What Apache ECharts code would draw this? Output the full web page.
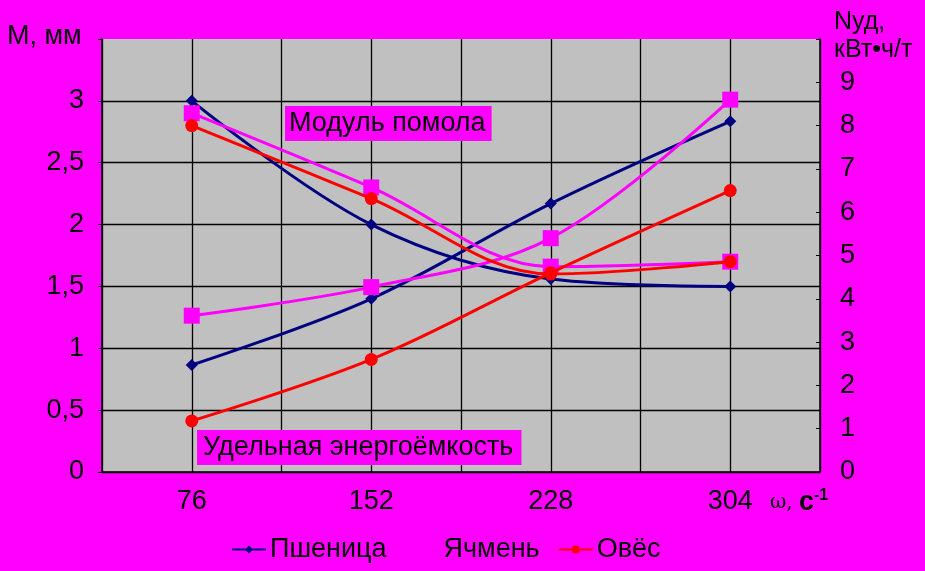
<!DOCTYPE html>
<html><head><meta charset="utf-8">
<script src="https://cdn.jsdelivr.net/npm/echarts@6/dist/echarts.min.js"></script>
<style>html,body{margin:0;padding:0;background:#FF00FF;}#c{width:925px;height:571px;}</style>
</head><body><div id="c"></div>
<script>
const categories = ['76', '152', '228', '304'];
const seriesNames = ['Пшеница', 'Ячмень', 'Овёс'];
// Модуль помола, мм (left axis)
const moduleWheat = [3.0, 2.0, 1.56, 1.5];
const moduleBarley = [2.9, 2.3, 1.66, 1.7];
const moduleOats = [2.8, 2.21, 1.6, 1.7];
// Удельная энергоёмкость, кВт·ч/т (right axis)
const energyWheat = [2.47, 4.0, 6.2, 8.1];
const energyBarley = [3.61, 4.27, 5.4, 8.6];
const energyOats = [1.18, 2.6, 4.6, 6.5];

const FONT = 'Liberation Sans';
const FS = 27;
const colors = ['#000080', '#FF00FF', '#FF0000'];
const symbols = ['diamond', 'rect', 'circle'];
const sizes = [12, 16, 13];

function mk(name, idx, data, yIdx) {
  return {
    name: name, type: 'line', data: data, xAxisIndex: 0, yAxisIndex: yIdx,
    smooth: 0.35, symbol: symbols[idx], symbolSize: sizes[idx],
    lineStyle: { color: colors[idx], width: 3 },
    itemStyle: { color: colors[idx] },
    z: 3 + idx
  };
}

const chart = echarts.init(document.getElementById('c'));
chart.setOption({
  backgroundColor: '#FF00FF',
  animation: false,
  textStyle: { fontFamily: FONT, color: '#000' },
  grid: { left: 102, right: 105, top: 39, bottom: 99, show: true, backgroundColor: '#C0C0C0', borderWidth: 0 },
  title: [
    { text: 'Модуль помола', left: 285, top: 106, padding: [4, 6, 4, 4], backgroundColor: '#FF00FF',
      textStyle: { fontFamily: FONT, fontSize: FS, fontWeight: 'normal', color: '#000' } },
    { text: 'Удельная энергоёмкость', left: 197, top: 430, padding: [4, 8, 4, 6], backgroundColor: '#FF00FF',
      textStyle: { fontFamily: FONT, fontSize: FS, fontWeight: 'normal', color: '#000' } },
    { text: 'М, мм', left: 7, top: 23, padding: 0,
      textStyle: { fontFamily: FONT, fontSize: FS, fontWeight: 'normal', color: '#000' } },
    { text: 'Nуд,\nкВт•ч/т', left: 834, top: 8, padding: 0,
      textStyle: { fontFamily: FONT, fontSize: FS - 2, fontWeight: 'normal', color: '#000', lineHeight: 28 } },
    { text: '{w|ω, }{c|с}{s|-1}', left: 770, top: 488, padding: 0,
      textStyle: { fontFamily: FONT, fontWeight: 'normal', color: '#000',
        rich: { w: { fontFamily: 'DejaVu Serif', fontSize: 20, color: '#000' },
                c: { fontFamily: FONT, fontSize: 27, fontWeight: 'bold', color: '#000' },
                s: { fontFamily: FONT, fontSize: 16, fontWeight: 'bold', color: '#000', verticalAlign: 'top', padding: [0, 0, 14, 0] } } } }
  ],
  legend: {
    bottom: 3, left: 226, itemGap: 18, itemWidth: 34, itemHeight: 10,
    data: seriesNames,
    textStyle: { fontFamily: FONT, fontSize: FS, color: '#000', padding: [0, 0, 0, -1] }
  },
  xAxis: [
    { type: 'category', data: categories, boundaryGap: true,
      axisLine: { show: true, lineStyle: { color: '#000', width: 1.5 } },
      axisTick: { show: false },
      axisLabel: { fontFamily: FONT, fontSize: FS, color: '#000', margin: 16 },
      splitLine: { show: false } },
    { type: 'value', min: 0, max: 8, interval: 1, position: 'bottom',
      axisLine: { show: false }, axisTick: { show: false }, axisLabel: { show: false },
      splitLine: { show: true, lineStyle: { color: '#000', width: 1.3 } } }
  ],
  yAxis: [
    { type: 'value', min: 0, max: 3.5, interval: 0.5, position: 'left',
      axisLine: { show: true, lineStyle: { color: '#000', width: 1.5 } },
      axisTick: { show: true, length: 4, lineStyle: { color: '#000' } },
      axisLabel: { fontFamily: FONT, fontSize: FS, color: '#000', margin: 18,
        formatter: v => v >= 3.5 ? '' : String(v).replace('.', ',') },
      splitLine: { show: true, showMaxLine: false, lineStyle: { color: '#000', width: 1.3 } } },
    { type: 'value', min: 0, max: 10, interval: 1, position: 'right',
      axisLine: { show: true, lineStyle: { color: '#000', width: 1.5 } },
      axisTick: { show: true, inside: true, length: 4, lineStyle: { color: '#000' } },
      axisLabel: { fontFamily: FONT, fontSize: FS, color: '#000', margin: 20,
        formatter: v => v >= 10 ? '' : String(v) },
      splitLine: { show: false } }
  ],
  series: [
    mk(seriesNames[0], 0, moduleWheat, 0),
    mk(seriesNames[1], 1, moduleBarley, 0),
    mk(seriesNames[2], 2, moduleOats, 0),
    mk(seriesNames[0], 0, energyWheat, 1),
    mk(seriesNames[1], 1, energyBarley, 1),
    mk(seriesNames[2], 2, energyOats, 1)
  ]
});
</script></body></html>
